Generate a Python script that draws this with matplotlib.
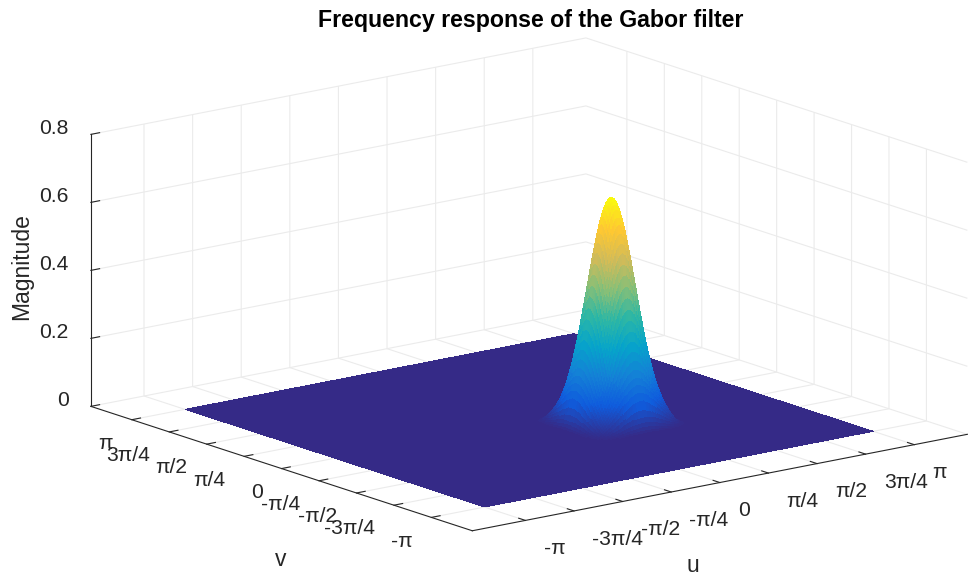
import numpy as np
import matplotlib
matplotlib.use('Agg')
import matplotlib.pyplot as plt
from matplotlib.colors import LinearSegmentedColormap

plt.rcParams['font.family'] = ['Liberation Sans', 'DejaVu Sans']

pi = np.pi
tick_vals = [-pi, -3*pi/4, -pi/2, -pi/4, 0, pi/4, pi/2, 3*pi/4, pi]
tick_names = ['-π', '-3π/4', '-π/2', '-π/4', '0', 'π/4', 'π/2', '3π/4', 'π']
z_vals = [0, 0.2, 0.4, 0.6, 0.8]
z_names = ['0', '0.2', '0.4', '0.6', '0.8']

# distance from the peak and relative height there
dist = [0.0, 0.025, 0.05, 0.075, 0.1, 0.125, 0.15, 0.175, 0.2, 0.225, 0.25, 0.275, 0.3, 0.325, 0.35, 0.375, 0.4,
        0.425, 0.45, 0.475, 0.5, 0.525, 0.55, 0.575, 0.6, 0.625, 0.65, 0.675, 0.7, 0.725, 0.75, 0.775, 0.8, 0.825, 0.85]
height = [1.0, 0.997, 0.987, 0.971, 0.949, 0.922, 0.89, 0.853, 0.812, 0.768, 0.722, 0.675, 0.626, 0.577, 0.529,
          0.481, 0.435, 0.391, 0.349, 0.309, 0.273, 0.238, 0.207, 0.175, 0.14, 0.10, 0.07, 0.045, 0.028, 0.015,
          0.007, 0.0, 0.0, 0.0, 0.0]
peak = 0.663
peak_u = 0.75
peak_v = -0.75
edge = 3.14

parula = LinearSegmentedColormap.from_list('parula', ['#352a87', '#0f5cdd', '#1481d6', '#06a4ca',
                                                      '#2eb7a4', '#87bf77', '#d1bb59', '#fec832', '#f9fb0e'])

offs = np.array([-d for d in dist[:0:-1]] + dist)
prof = np.array(height[:0:-1] + height)
u_pos = np.concatenate([[-edge], peak_u + offs, [edge]])
v_pos = np.concatenate([[-edge], peak_v + offs, [edge]])
prof = np.concatenate([[0], prof, [0]])

U, V = np.meshgrid(u_pos, v_pos)
Z = peak*np.outer(prof, prof)

fig = plt.figure(figsize=(9.69, 5.79), dpi=100)
ax = fig.add_axes([0.0691, -0.2893, 0.9288, 1.5544], projection='3d', proj_type='ortho')
ax.view_init(elev=14.6, azim=-127.7)
ax.set_box_aspect((630, 628, 283))
ax.patch.set_alpha(0)

ax.plot_surface(U, V, Z, cmap=parula, rstride=1, cstride=1, linewidth=0,
                antialiased=False, shade=False)

ax.set_xlim(-4, 4)
ax.set_ylim(-4, 4)
ax.set_zlim(0, 0.8)
ax.set_xticks(tick_vals, labels=tick_names, ha='left', va='top')
ax.set_yticks(tick_vals, labels=tick_names, ha='right', va='top')
ax.set_zticks(z_vals, labels=z_names, ha='right', va='baseline')
ax.tick_params(axis='both', labelsize=15.2, colors='#262626')
ax.tick_params(axis='x', pad=8)
ax.tick_params(axis='y', pad=5)
ax.tick_params(axis='z', pad=0.5)

for axis in [ax.xaxis, ax.yaxis, ax.zaxis]:
    axis.set_pane_color((1, 1, 1, 0))
    axis.pane.set_edgecolor((1, 1, 1, 0))
    axis.line.set_color('#262626')
    axis.line.set_linewidth(0.8)
    axis._axinfo['grid']['color'] = '#ebebeb'
    axis._axinfo['grid']['linewidth'] = 0.8
    axis._axinfo['tick']['inward_factor'] = 0
    axis._axinfo['tick']['outward_factor'] = 0.22
    axis._axinfo['tick']['linewidth'] = {True: 0.8, False: 0.8}
    axis._axinfo['tick']['color'] = '#262626'

fig.text(531/969, 1-20.5/579, 'Frequency response of the Gabor filter', fontsize=16.7,
         fontweight='bold', ha='center', va='center', color='black')
fig.text(22/969, 1-267/579, 'Magnitude', fontsize=16.5, rotation=90, ha='center', va='center', color='#262626')
fig.text(281/969, 1-559/579, 'v', fontsize=16.5, ha='center', va='center', color='#262626')
fig.text(693/969, 1-566/579, 'u', fontsize=16.5, ha='center', va='center', color='#262626')

fig.savefig('out.png', dpi=100)
